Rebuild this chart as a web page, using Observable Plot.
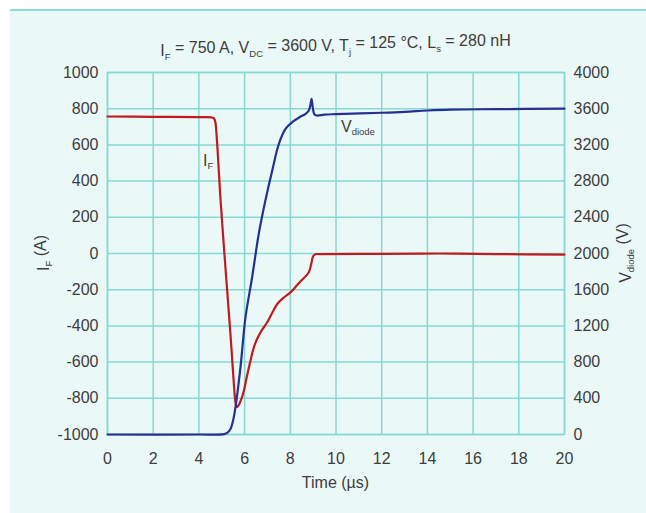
<!DOCTYPE html>
<html><head><meta charset="utf-8">
<script src="https://cdn.jsdelivr.net/npm/d3@7"></script>
<script src="https://cdn.jsdelivr.net/npm/@observablehq/plot@0.6"></script>
<style>
body{margin:0;background:#fff;width:646px;height:513px;overflow:hidden;position:relative;font-family:"Liberation Sans",Arial,sans-serif;}
#panel{position:absolute;left:10px;top:9px;width:636px;height:504px;background:#ebf8f8;border-top:2px solid #8fdcd6;}
#chart{position:absolute;left:0;top:0;}
</style></head><body><div id="panel"><div id="chart"></div></div>
<script>
// Forward current I_F (A) vs time (µs)
const timeF = [0, 2, 4, 4.55, 4.65, 4.72, 4.77, 4.95, 5.16, 5.38, 5.53, 5.6, 5.66, 5.75, 5.87, 5.97, 6.1, 6.26, 6.4, 6.55, 6.75, 6.99, 7.2, 7.43, 7.7, 8.01, 8.4, 8.81, 8.92, 9.0, 9.1, 9.3, 12, 14.5, 17, 20];
const currentF = [757, 755, 753, 752, 748, 725, 661, 293, -76, -444, -720, -820, -848, -836, -800, -757, -680, -591, -520, -471, -425, -380, -330, -279, -245, -215, -160, -104, -55, -15, -4, -3, -2, 0, -3, -6];
// Diode voltage V_diode (V) vs time (µs)
const timeV = [0, 4, 5.1, 5.25, 5.38, 5.5, 5.6, 5.82, 6.04, 6.33, 6.62, 6.91, 7.21, 7.5, 7.79, 8.08, 8.4, 8.67, 8.81, 8.88, 8.93, 8.98, 9.05, 9.15, 9.5, 10, 12, 13, 14, 15, 17, 20];
const voltageV = [0, 0, 5, 20, 60, 160, 300, 744, 1296, 1738, 2218, 2586, 2917, 3212, 3378, 3451, 3505, 3543, 3580, 3640, 3710, 3620, 3540, 3525, 3535, 3540, 3555, 3565, 3580, 3590, 3595, 3600];

const xTicks = [0, 2, 4, 6, 8, 10, 12, 14, 16, 18, 20];
const iTicks = [-1000, -800, -600, -400, -200, 0, 200, 400, 600, 800, 1000];
const vTicks = [0, 400, 800, 1200, 1600, 2000, 2400, 2800, 3200, 3600, 4000];

const annotations = [
  {t: 4.2, i: 503, main: "I", sub: "F"},
  {t: 10.24, i: 690, main: "V", sub: "diode"}
];

const vToI = v => v / 2 - 1000;
const iToV = i => (i + 1000) * 2;

const dataF = timeF.map((t, k) => ({t, i: currentF[k]}));
const dataV = timeV.map((t, k) => ({t, v: voltageV[k]}));

const grid = "#86d9d2";
const textColor = "#3d3d3d";
const FS = 16;

const W = 636, H = 502;
const plot = Plot.plot({
  width: W, height: H,
  marginLeft: 97, marginRight: 82, marginTop: 61, marginBottom: 79,
  style: {background: "transparent", fontFamily: "'Liberation Sans', Arial, sans-serif", fontSize: FS + "px", color: textColor},
  x: {domain: [0, 20], label: null},
  y: {domain: [-1000, 1000], label: null},
  marks: [
    Plot.gridX(xTicks, {stroke: grid, strokeOpacity: 1, strokeWidth: 1.5}),
    Plot.gridY(iTicks, {stroke: grid, strokeOpacity: 1, strokeWidth: 1.5}),
    Plot.frame({stroke: grid, strokeWidth: 1.5}),
    Plot.axisX(xTicks, {tickSize: 0, tickPadding: 18.5, fontSize: FS, label: null, tickFormat: d => String(d)}),
    Plot.axisY(iTicks, {anchor: "left", tickSize: 0, tickPadding: 9, fontSize: FS, label: null, tickFormat: d => String(d)}),
    Plot.axisY(vTicks.map(vToI), {anchor: "right", tickSize: 0, tickPadding: 9, fontSize: FS, label: null, tickFormat: d => String(iToV(d))}),
    Plot.line(dataF, {x: "t", y: "i", stroke: "#c01a1f", strokeWidth: 2.2, curve: "catmull-rom"}),
    Plot.line(dataV, {x: "t", y: d => vToI(d.v), stroke: "#27308e", strokeWidth: 2.2, curve: "catmull-rom"})
  ]
});
document.getElementById("chart").appendChild(plot);

const svg = d3.select(plot);

function richText(parent, parts, attrs) {
  const t = parent.append("text").attr("fill", textColor).attr("font-size", FS)
    .attr("font-family", "'Liberation Sans', Arial, sans-serif");
  for (const [k, v] of Object.entries(attrs)) t.attr(k, v);
  let sub = false;
  for (const p of parts) {
    const s = t.append("tspan").text(p.s);
    if (p.sub && !sub) { s.attr("dy", "0.4em").attr("font-size", 9.5); sub = true; }
    else if (p.sub) { s.attr("font-size", 9.5); }
    else if (!p.sub && sub) { s.attr("dy", "-0.4em"); sub = false; }
  }
  return t;
}

const x = plot.scale("x"), y = plot.scale("y");
const midX = (x.range[0] + x.range[1]) / 2;
const midY = (y.range[0] + y.range[1]) / 2;

// in-plot labels positioned through the scales
for (const a of annotations) {
  richText(svg, [{s: a.main}, {s: a.sub, sub: true}],
    {x: x.apply(a.t), y: y.apply(a.i), "text-anchor": "start", "dominant-baseline": "middle"});
}

richText(svg, [
  {s: "I"}, {s: "F", sub: true}, {s: " = 750 A, V"}, {s: "DC", sub: true},
  {s: " = 3600 V, T"}, {s: "j", sub: true}, {s: " = 125 °C, L"}, {s: "s", sub: true}, {s: " = 280 nH"}
], {x: midX, y: 45, "text-anchor": "middle"});

richText(svg, [{s: "I"}, {s: "F", sub: true}, {s: " (A)"}],
  {transform: `translate(35,${midY}) rotate(-90)`, "text-anchor": "middle", "dominant-baseline": "middle"});
richText(svg, [{s: "V"}, {s: "diode", sub: true}, {s: " (V)"}],
  {transform: `translate(617,${midY}) rotate(-90)`, "text-anchor": "middle", "dominant-baseline": "middle"});
richText(svg, [{s: "Time (µs)"}],
  {x: midX, y: 477, "text-anchor": "middle"});
</script>
</body></html>
